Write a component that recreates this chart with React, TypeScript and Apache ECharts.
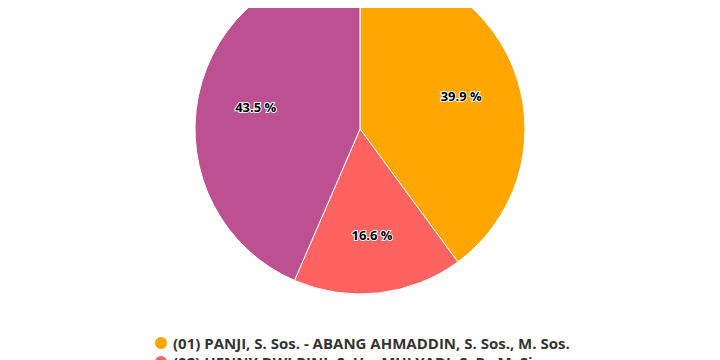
import React, { useEffect, useRef } from "react";
import * as echarts from "echarts";

const names = [
  "(01) PANJI, S. Sos. - ABANG AHMADDIN, S. Sos., M. Sos.",
  "(02) HENNY DWI RINI, S. H. - MULYADI, S. P., M. Si.",
  "(03) PASANGAN CALON NOMOR URUT 3",
];
const values = [39.9, 16.6, 43.5];
const colors = ["#FFA600", "#FF6361", "#BC5090"];

export default function App() {
  const ref = useRef<HTMLDivElement>(null);
  useEffect(() => {
    const chart = echarts.init(ref.current!, null, { renderer: "svg" });
    const data = names.map((n, i) => ({ name: n, value: values[i], itemStyle: { color: colors[i] } }));
    const legendTops = [322, 341, 360];
    chart.setOption({
      animation: false,
      backgroundColor: "#ffffff",
      legend: names.map((n, i) => ({
        orient: "horizontal",
        left: 140,
        top: legendTops[i],
        icon: "circle",
        itemWidth: 14,
        itemHeight: 14,
        textStyle: { fontSize: 15, fontWeight: "bold", color: "#333333", fontFamily: "Open Sans" },
        data: [n],
      })),
      series: [
        {
          type: "pie",
          center: [352, 121],
          radius: [0, 165],
          startAngle: 90,
          clockwise: true,
          silent: true,
          label: { show: false },
          labelLine: { show: false },
          itemStyle: { borderColor: "#ffffff", borderWidth: 1 },
          data,
        },
        {
          type: "pie",
          center: [352, 121],
          radius: [42, 165],
          startAngle: 90,
          clockwise: true,
          silent: true,
          itemStyle: { color: "rgba(0,0,0,0)" },
          label: {
            show: true,
            position: "inside",
            formatter: (p: any) => `${p.value} %`,
            fontSize: 13,
            fontWeight: "bold",
            color: "#000000",
            textBorderColor: "#ffffff",
            textBorderWidth: 2,
            fontFamily: "Open Sans",
          },
          labelLine: { show: false },
          data: names.map((n, i) => ({ name: n + " ", value: values[i] })),
        },
      ],
    });
    return () => chart.dispose();
  }, []);
  return <div ref={ref} style={{ width: 704, height: 380 }} />;
}
